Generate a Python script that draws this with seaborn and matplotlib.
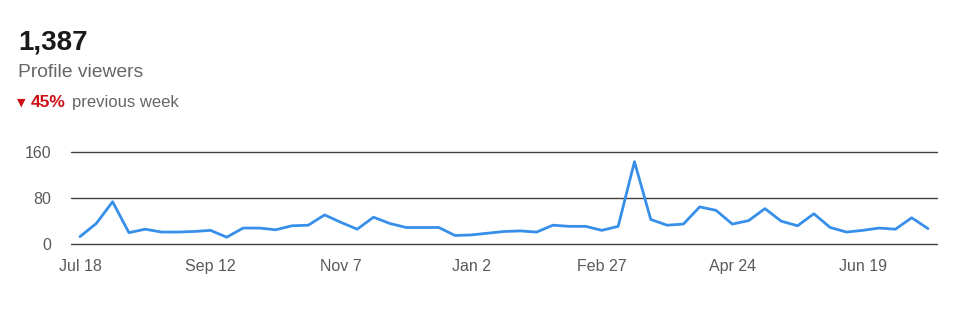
import matplotlib
matplotlib.use("Agg")
import matplotlib.pyplot as plt
import seaborn as sns
import numpy as np
import pandas as pd

# ---- data ----
values = [12, 35, 73, 19, 25, 20, 20, 21, 23, 11, 27, 27, 24, 31, 32, 50,
          37, 25, 46, 35, 28, 28, 28, 14, 15, 18, 21, 22, 20, 32, 30, 30,
          23, 30, 143, 42, 32, 34, 64, 58, 34, 40, 61, 39, 31, 52, 28, 20,
          23, 27, 25, 45, 26]
tick_weeks = [0, 8, 16, 24, 32, 40, 48]
tick_labels = ["Jul 18", "Sep 12", "Nov 7", "Jan 2", "Feb 27", "Apr 24", "Jun 19"]
y_ticks = [0, 80, 160]
total_label = "1,387"
metric_label = "Profile viewers"
change_label = "45%"
change_suffix = "previous week"

df = pd.DataFrame({"week": np.arange(len(values)), "viewers": values})

sns.set_theme(style="white")
plt.rcParams["font.family"] = ["Liberation Sans", "DejaVu Sans"]

fig = plt.figure(figsize=(9.76, 3.14), dpi=100)
W, H = 976, 314
ax = fig.add_axes([71 / W, 1 - 243.5 / H, (937 - 71) / W, (243.5 - 152) / H])

sns.lineplot(data=df, x="week", y="viewers", ax=ax, color="#378fe9", linewidth=2)

ax.set_ylim(0, 160)
ax.set_xlim(-0.55, len(values) - 1 + 0.55)
ax.set_yticks(y_ticks)
ax.set_yticklabels([str(v) for v in y_ticks])
ax.set_xticks(tick_weeks)
ax.set_xticklabels(tick_labels)
ax.set_xlabel("")
ax.set_ylabel("")
for s in ax.spines.values():
    s.set_visible(False)
ax.grid(False)
for v in y_ticks:
    ax.axhline(v, color="#404040", linewidth=1.0, zorder=0, clip_on=False)
ax.tick_params(axis="both", length=0, labelsize=11.5, labelcolor="#5a5a5a")
ax.tick_params(axis="y", pad=14)
ax.tick_params(axis="x", pad=11)

# header texts
fig.text(18 / W, 1 - 50 / H, total_label, fontsize=20, fontweight="bold", color="#1a1a1a", va="baseline")
fig.text(18 / W, 1 - 77 / H, metric_label, fontsize=13.9, color="#666666", va="baseline")
fig.text(17 / W, 1 - 106 / H, "▼", fontsize=8, color="#cc1016", va="baseline",
         family=["DejaVu Sans"])
fig.text(31 / W, 1 - 107 / H, change_label, fontsize=12.5, fontweight="bold", color="#cc1016", va="baseline")
fig.text(72 / W, 1 - 107 / H, change_suffix, fontsize=12, color="#666666", va="baseline")

fig.savefig("out.png", dpi=100)
